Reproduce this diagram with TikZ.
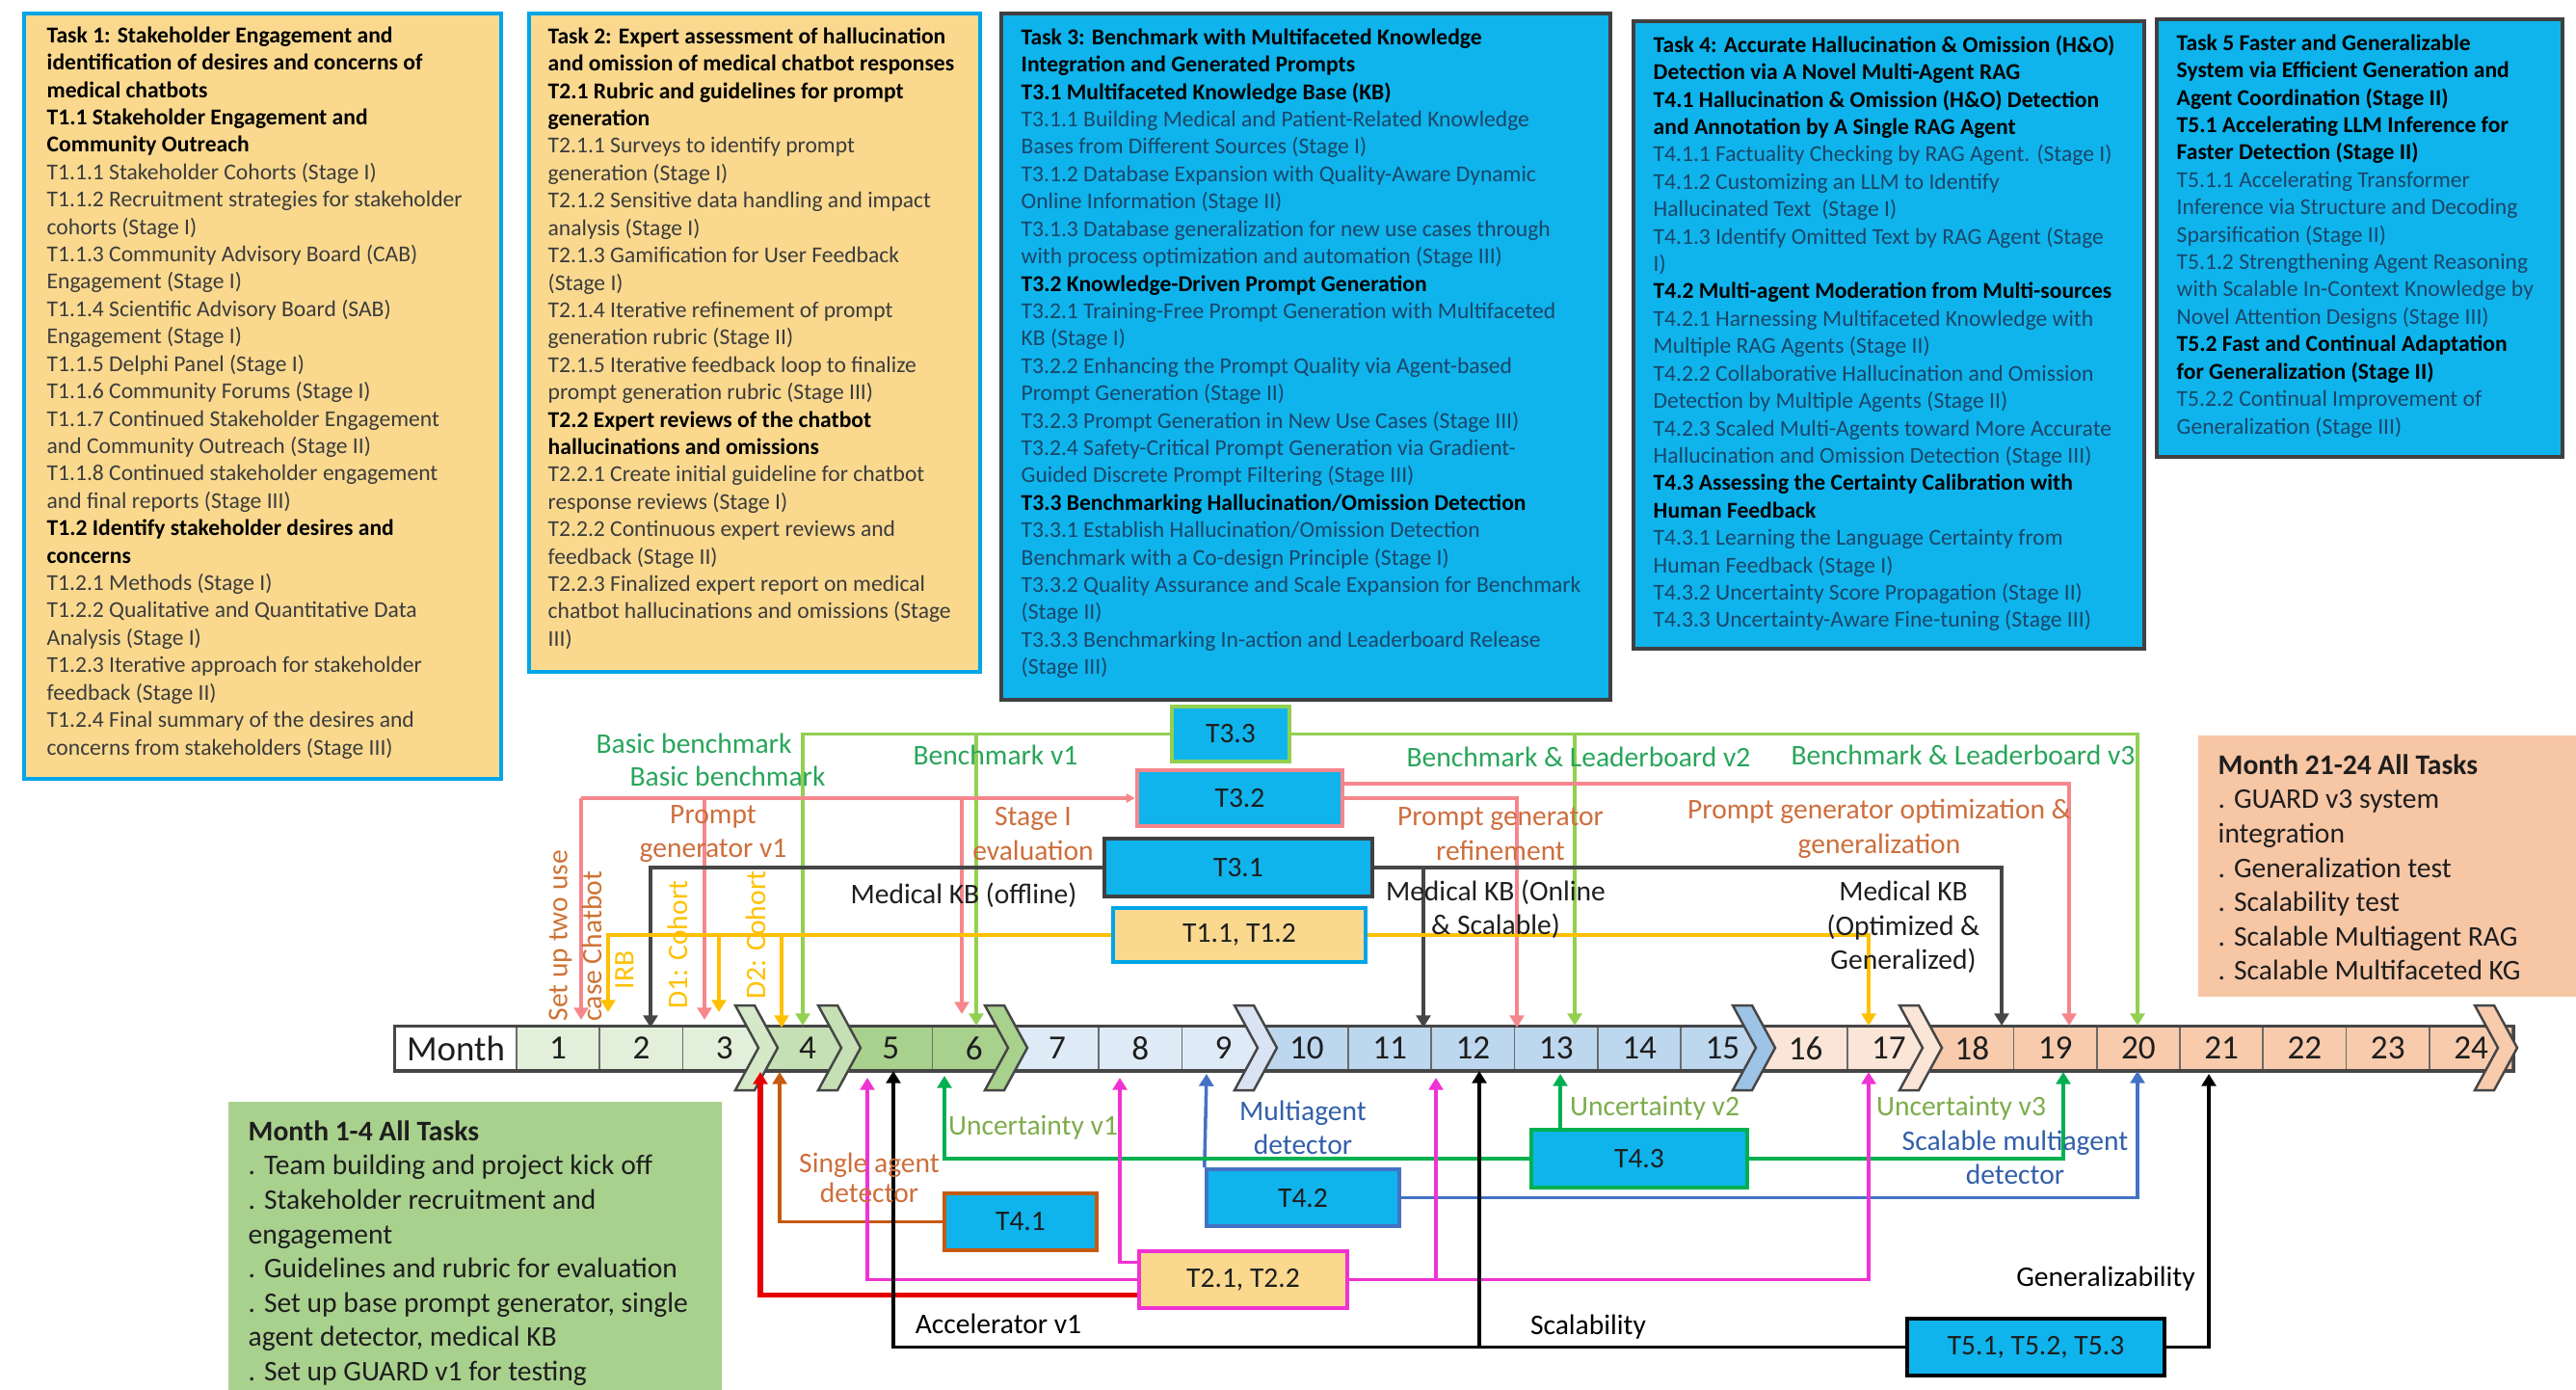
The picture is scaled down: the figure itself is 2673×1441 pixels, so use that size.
\documentclass[tikz,border=0pt]{standalone}
\usepackage{fontspec}
\setmainfont{Carlito}
\usetikzlibrary{arrows.meta}

% fills and borders
\definecolor{cyanf}{RGB}{15,180,236}
\definecolor{yelf}{RGB}{250,217,143}
\definecolor{bluebd}{RGB}{0,165,232}
\definecolor{darkbd}{RGB}{64,64,64}
\definecolor{grnbox}{RGB}{169,209,142}
\definecolor{pchbox}{RGB}{247,198,165}
% connector colours
\definecolor{lgreen}{RGB}{146,208,80}
\definecolor{pinkln}{RGB}{245,135,140}
\definecolor{greyln}{RGB}{70,70,70}
\definecolor{yelln}{RGB}{255,192,0}
\definecolor{brownln}{RGB}{197,90,17}
\definecolor{blueln}{RGB}{68,114,196}
\definecolor{greenln}{RGB}{0,176,80}
\definecolor{magln}{RGB}{240,50,210}
\definecolor{redln}{RGB}{230,0,0}
% label colours
\definecolor{txgreen}{RGB}{40,165,90}
\definecolor{txorange}{RGB}{205,110,60}
\definecolor{txblue}{RGB}{50,95,170}
\definecolor{txolive}{RGB}{125,172,75}
\definecolor{txdark}{RGB}{30,30,30}
\definecolor{subA}{RGB}{60,60,60}
\definecolor{subB}{RGB}{25,70,105}
% timeline phases
\definecolor{tlA}{RGB}{226,239,218}
\definecolor{tlB}{RGB}{197,224,180}
\definecolor{tlC}{RGB}{169,209,142}
\definecolor{tlD}{RGB}{222,235,247}
\definecolor{tlE}{RGB}{189,215,238}
\definecolor{tlF}{RGB}{251,229,214}
\definecolor{tlG}{RGB}{248,203,173}
\definecolor{chevA}{RGB}{213,232,200}
\definecolor{chevD}{RGB}{218,227,243}
\definecolor{chevE}{RGB}{157,195,230}

\newcommand\taskfont{\fontsize{6.7}{8.08}\selectfont}
\newcommand\lblfont{\fontsize{8.4}{10.1}\selectfont}
\newcommand\hb[1]{{\color{black}\bfseries #1}}

\begin{document}
\begin{tikzpicture}[x=0.01cm,y=-0.01cm,
  taskA/.style={draw=bluebd, line width=1.1pt, fill=yelf, inner sep=0, anchor=north west},
  taskB/.style={draw=darkbd, line width=1.1pt, fill=cyanf, inner sep=0, anchor=north west},
  tasktext/.style={font=\taskfont, align=left, inner sep=0, anchor=north west},
  tbox/.style={line width=1.2pt, fill=cyanf, inner sep=0, font=\lblfont, text=txdark},
  lbl/.style={font=\lblfont, align=center, inner sep=0},
  cell/.style={draw=greyln!80, line width=0.5pt, inner sep=0, minimum width=0.863cm,
    minimum height=0.45cm, font=\fontsize{10}{12}\selectfont, text=txdark},
  chev/.style={draw=greyln, line width=0.7pt},
  arr/.style={-{Triangle[length=3.6pt,width=4.2pt]}},
  cgreen/.style={draw=lgreen, line width=1pt, arr},
  cpink/.style={draw=pinkln, line width=1pt, arr},
  cgrey/.style={draw=greyln, line width=1pt, arr},
  cyel/.style={draw=yelln, line width=1pt, arr},
  cbrown/.style={draw=brownln, line width=1pt, arr},
  cblue/.style={draw=blueln, line width=1pt, arr},
  cgrn/.style={draw=greenln, line width=1pt, arr},
  cmag/.style={draw=magln, line width=1pt, arr},
  cred/.style={draw=redln, line width=1.5pt, arr},
  cblk/.style={draw=black, line width=1.1pt, arr}]

\useasboundingbox (0,0) rectangle (2673,1441);

% ---------------- task description panels ----------------
\node[taskA, minimum width=4.95cm, minimum height=7.94cm] (task1) at (23,12) {};
\node[tasktext, text=subA] (task1txt) at (48,27) {%
\hb{Task 1: Stakeholder Engagement and}\\
\hb{identification of desires and concerns of}\\
\hb{medical chatbots}\\
\hb{T1.1 Stakeholder Engagement and}\\
\hb{Community Outreach}\\
T1.1.1 Stakeholder Cohorts (Stage I)\\
T1.1.2 Recruitment strategies for stakeholder\\
cohorts (Stage I)\\
T1.1.3 Community Advisory Board (CAB)\\
Engagement (Stage I)\\
T1.1.4 Scientific Advisory Board (SAB)\\
Engagement (Stage I)\\
T1.1.5 Delphi Panel (Stage I)\\
T1.1.6 Community Forums (Stage I)\\
T1.1.7 Continued Stakeholder Engagement\\
and Community Outreach (Stage II)\\
T1.1.8 Continued stakeholder engagement\\
and final reports (Stage III)\\
\hb{T1.2 Identify stakeholder desires and}\\
\hb{concerns}\\
T1.2.1 Methods (Stage I)\\
T1.2.2 Qualitative and Quantitative Data\\
Analysis (Stage I)\\
T1.2.3 Iterative approach for stakeholder\\
feedback (Stage II)\\
T1.2.4 Final summary of the desires and\\
concerns from stakeholders (Stage III)};

\node[taskA, minimum width=4.68cm, minimum height=6.83cm] (task2) at (547,12) {};
\node[tasktext, text=subA] (task2txt) at (568,28) {%
\hb{Task 2: Expert assessment of hallucination}\\
\hb{and omission of medical chatbot responses}\\
\hb{T2.1 Rubric and guidelines for prompt}\\
\hb{generation}\\
T2.1.1 Surveys to identify prompt\\
generation (Stage I)\\
T2.1.2 Sensitive data handling and impact\\
analysis (Stage I)\\
T2.1.3 Gamification for User Feedback\\
(Stage I)\\
T2.1.4 Iterative refinement of prompt\\
generation rubric (Stage II)\\
T2.1.5 Iterative feedback loop to finalize\\
prompt generation rubric (Stage III)\\
\hb{T2.2 Expert reviews of the chatbot}\\
\hb{hallucinations and omissions}\\
T2.2.1 Create initial guideline for chatbot\\
response reviews (Stage I)\\
T2.2.2 Continuous expert reviews and\\
feedback (Stage II)\\
T2.2.3 Finalized expert report on medical\\
chatbot hallucinations and omissions (Stage\\
III)};

\node[taskB, minimum width=6.32cm, minimum height=7.12cm] (task3) at (1037,12) {};
\node[tasktext, text=subB] (task3txt) at (1059,29) {%
\hb{Task 3: Benchmark with Multifaceted Knowledge}\\
\hb{Integration and Generated Prompts}\\
\hb{T3.1 Multifaceted Knowledge Base (KB)}\\
T3.1.1 Building Medical and Patient-Related Knowledge\\
Bases from Different Sources (Stage I)\\
T3.1.2 Database Expansion with Quality-Aware Dynamic\\
Online Information (Stage II)\\
T3.1.3 Database generalization for new use cases through\\
with process optimization and automation (Stage III)\\
\hb{T3.2 Knowledge-Driven Prompt Generation}\\
T3.2.1 Training-Free Prompt Generation with Multifaceted\\
KB (Stage I)\\
T3.2.2 Enhancing the Prompt Quality via Agent-based\\
Prompt Generation (Stage II)\\
T3.2.3 Prompt Generation in New Use Cases (Stage III)\\
T3.2.4 Safety-Critical Prompt Generation via Gradient-\\
Guided Discrete Prompt Filtering (Stage III)\\
\hb{T3.3 Benchmarking Hallucination/Omission Detection}\\
T3.3.1 Establish Hallucination/Omission Detection\\
Benchmark with a Co-design Principle (Stage I)\\
T3.3.2 Quality Assurance and Scale Expansion for Benchmark\\
(Stage II)\\
T3.3.3 Benchmarking In-action and Leaderboard Release\\
(Stage III)};

\node[taskB, minimum width=5.30cm, minimum height=6.51cm] (task4) at (1693,20) {};
\node[tasktext, text=subB] (task4txt) at (1715,36) {%
\hb{Task 4: Accurate Hallucination \& Omission (H\&O)}\\
\hb{Detection via A Novel Multi-Agent RAG}\\
\hb{T4.1 Hallucination \& Omission (H\&O) Detection}\\
\hb{and Annotation by A Single RAG Agent}\\
T4.1.1 Factuality Checking by RAG Agent. (Stage I)\\
T4.1.2 Customizing an LLM to Identify\\
Hallucinated Text \ (Stage I)\\
T4.1.3 Identify Omitted Text by RAG Agent (Stage\\
I)\\
\hb{T4.2 Multi-agent Moderation from Multi-sources}\\
T4.2.1 Harnessing Multifaceted Knowledge with\\
Multiple RAG Agents (Stage II)\\
T4.2.2 Collaborative Hallucination and Omission\\
Detection by Multiple Agents (Stage II)\\
T4.2.3 Scaled Multi-Agents toward More Accurate\\
Hallucination and Omission Detection (Stage III)\\
\hb{T4.3 Assessing the Certainty Calibration with}\\
\hb{Human Feedback}\\
T4.3.1 Learning the Language Certainty from\\
Human Feedback (Stage I)\\
T4.3.2 Uncertainty Score Propagation (Stage II)\\
T4.3.3 Uncertainty-Aware Fine-tuning (Stage III)};

\node[taskB, minimum width=4.21cm, minimum height=4.54cm] (task5) at (2236,18) {};
\node[tasktext, text=subB] (task5txt) at (2258,35) {%
\hb{Task 5 Faster and Generalizable}\\
\hb{System via Efficient Generation and}\\
\hb{Agent Coordination (Stage II)}\\
\hb{T5.1 Accelerating LLM Inference for}\\
\hb{Faster Detection (Stage II)}\\
T5.1.1 Accelerating Transformer\\
Inference via Structure and Decoding\\
Sparsification (Stage II)\\
T5.1.2 Strengthening Agent Reasoning\\
with Scalable In-Context Knowledge by\\
Novel Attention Designs (Stage III)\\
\hb{T5.2 Fast and Continual Adaptation}\\
\hb{for Generalization (Stage II)}\\
T5.2.2 Continual Improvement of\\
Generalization (Stage III)};

% ---------------- summary panels ----------------
\node[fill=grnbox, inner sep=0, anchor=north west, minimum width=5.12cm, minimum height=2.99cm] (sum14) at (236,1142) {};
\node[font=\lblfont, align=left, inner sep=0, anchor=north west, text=txdark] (sum14txt) at (257,1162) {%
\textbf{Month 1-4 All Tasks}\\
. Team building and project kick off\\
. Stakeholder recruitment and\\
engagement\\
. Guidelines and rubric for evaluation\\
. Set up base prompt generator, single\\
agent detector, medical KB\\
. Set up GUARD v1 for testing};

\node[fill=pchbox, inner sep=0, anchor=north west, minimum width=3.93cm, minimum height=2.71cm] (sum2124) at (2280,762) {};
\node[font=\lblfont, align=left, inner sep=0, anchor=north west, text=txdark] (sum2124txt) at (2301,782) {%
\textbf{Month 21-24 All Tasks}\\
. GUARD v3 system\\
integration\\
. Generalization test\\
. Scalability test\\
. Scalable Multiagent RAG\\
. Scalable Multifaceted KG};

% ---------------- month timeline ----------------
\node[cell, fill=white, minimum width=1.26cm, font=\fontsize{10.5}{12}\selectfont] (month) at (473,1087.5) {Month};
\foreach \i/\c in {1/tlA,2/tlA,3/tlA,4/tlB,5/tlC,6/tlC,7/tlD,8/tlD,9/tlD,10/tlE,11/tlE,12/tlE,13/tlE,14/tlE,15/tlE,16/tlF,17/tlF,18/tlG,19/tlG,20/tlG,21/tlG,22/tlG,23/tlG,24/tlG}{
  \pgfmathsetmacro\cx{536+(\i-0.5)*86.3}
  \node[cell, fill=\c] (m\i) at (\cx,1087.5) {\i};
}
\draw[greyln, line width=0.9pt] (month.north west) rectangle (m24.south east);
% phase chevrons
\foreach \b/\c in {795/chevA,881/tlB,1054/tlC,1313/chevD,1830/chevE,2003/tlF,2600/tlG}{
  \filldraw[chev, fill=\c] (\b-32,1043) -- (\b-12,1043) -- (\b+12,1087) -- (\b-12,1131)
    -- (\b-32,1131) -- (\b-8,1087) -- cycle;
}

% ---------------- work-package boxes ----------------
\node[tbox, draw=lgreen, minimum width=1.22cm, minimum height=0.57cm] (t33) at (1277,761.5) {T3.3};
\node[tbox, draw=pinkln, minimum width=2.13cm, minimum height=0.58cm] (t32) at (1286.5,828) {T3.2};
\node[tbox, draw=darkbd, minimum width=2.78cm, minimum height=0.60cm] (t31) at (1285,900) {T3.1};
\node[tbox, draw=bluebd, fill=yelf, minimum width=2.62cm, minimum height=0.56cm] (t11) at (1286,970) {T1.1, T1.2};
\node[tbox, draw=brownln, minimum width=1.58cm, minimum height=0.59cm] (t41) at (1059,1267.5) {T4.1};
\node[tbox, draw=blueln, minimum width=2.00cm, minimum height=0.59cm] (t42) at (1352,1242.5) {T4.2};
\node[tbox, draw=greenln, minimum width=2.24cm, minimum height=0.60cm] (t43) at (1701,1202) {T4.3};
\node[tbox, draw=magln, fill=yelf, minimum width=2.16cm, minimum height=0.59cm] (t2) at (1290,1327.5) {T2.1, T2.2};
\node[tbox, draw=black, minimum width=2.67cm, minimum height=0.59cm] (t5) at (2112.5,1397.5) {T5.1, T5.2, T5.3};

% ---------------- arrow ends on the timeline ----------------
\coordinate (aP1) at (603,1058);
\coordinate (aY1) at (631,1050);
\coordinate (aK1) at (675,1066);
\coordinate (aP2) at (731,1058);
\coordinate (aY2) at (746,1050);
\coordinate (aY3) at (811,1066);
\coordinate (aG1) at (833,1064);
\coordinate (aP3) at (998,1052);
\coordinate (aG2) at (1013,1064);
\coordinate (aK2) at (1477,1066);
\coordinate (aP4) at (1574,1066);
\coordinate (aG3) at (1634,1064);
\coordinate (aY4) at (1939,1064);
\coordinate (aK3) at (2077,1064);
\coordinate (aP5) at (2147,1064);
\coordinate (aG4) at (2218,1064);

\coordinate (bR1) at (789,1112);
\coordinate (bB1) at (809,1112);
\coordinate (bM1) at (900,1118);
\coordinate (bK1) at (927,1111);
\coordinate (bG1) at (980,1116);
\coordinate (bM2) at (1162,1118);
\coordinate (bU1) at (1252,1114);
\coordinate (bM3) at (1490,1118);
\coordinate (bK2) at (1535,1111);
\coordinate (bG2) at (1619,1114);
\coordinate (bM4) at (1939,1112);
\coordinate (bG3) at (2141,1112);
\coordinate (bU2) at (2218,1111);
\coordinate (bK3) at (2292,1114);

% ---------------- connectors above the timeline ----------------
\draw[cgreen] (t33.west) -| (aG1);
\draw[cgreen] (t33.west -| aG2) -- (aG2);
\draw[cgreen] (t33.east) -| (aG4);
\draw[cgreen] (t33.east -| aG3) -- (aG3);

\draw[cpink, -{Triangle[length=2.6pt,width=2.6pt]}] (t32.west -| aP1) -- (t32.west);
\draw[cpink] (t32.west -| aP1) -- (aP1);
\draw[cpink] (t32.west -| aP2) -- (aP2);
\draw[cpink] (t32.west -| aP3) -- (aP3);
\draw[cpink] (t32.east) -| (aP4);
\draw[cpink] ([yshift=0.15cm]t32.east) -| (aP5);

\draw[cgrey] (t31.west) -| (aK1);
\draw[cgrey] (t31.east) -| (aK3);
\draw[cgrey] (t31.east -| aK2) -- (aK2);

\draw[cyel] (t11.west) -| (aY1);
\draw[cyel] (t11.west -| aY2) -- (aY2);
\draw[cyel] (t11.west -| aY3) -- (aY3);
\draw[cyel] (t11.east) -| (aY4);

% ---------------- connectors below the timeline ----------------
\draw[cbrown] (t41.west) -| (bB1);
\draw[cblue] (t42.north west) -- (bU1);
\draw[cblue] (t42.east) -| (bU2);
\draw[cgrn] (t43.west) -| (bG1);
\draw[cgrn] (t43.east) -| (bG3);
\draw[cgrn] (t43.north -| bG2) -- (bG2);
\draw[cmag] ([yshift=0.18cm]t2.west) -| (bM2);
\draw[cmag] (t2.west) -| (bM1);
\draw[cred] ([yshift=-0.16cm]t2.west) -| (bR1);
\draw[cmag] (t2.east) -| (bM4);
\draw[cmag] (t2.east -| bM3) -- (bM3);
\draw[cblk] (t5.west) -| (bK1);
\draw[cblk] (t5.west -| bK2) -- (bK2);
\draw[cblk] (t5.east) -| (bK3);

% ---------------- labels above the timeline ----------------
\node[lbl, text=txgreen] (lbb1) at (720,771) {Basic benchmark};
\node[lbl, text=txgreen] (lbb2) at (755,805) {Basic benchmark};
\node[lbl, text=txgreen] (lbv1) at (1033,783) {Benchmark v1};
\node[lbl, text=txgreen] (lbv2) at (1638,785) {Benchmark \& Leaderboard v2};
\node[lbl, text=txgreen] (lbv3) at (2037,783) {Benchmark \& Leaderboard v3};
\node[lbl, text=txorange] (lpg1) at (740,865) {Prompt\\generator v1};
\node[lbl, text=txorange] (lse) at (1072,865) {Stage I\\evaluation};
\node[lbl, text=txorange] (lpgr) at (1557,865) {Prompt generator\\refinement};
\node[lbl, text=txorange] (lpgo) at (1950,860) {Prompt generator optimization \&\\generalization};
\node[lbl, text=txdark] (lkb1) at (1000,929) {Medical KB (offline)};
\node[lbl, text=txdark] (lkb2) at (1552,943) {Medical KB (Online\\\& Scalable)};
\node[lbl, text=txdark] (lkb3) at (1975,962) {Medical KB\\(Optimized \&\\Generalized)};
\node[lbl, rotate=90, anchor=west, align=left, text=brownln!85] (lchat) at (597,1060) {Set up two use\\case Chatbot};
\node[lbl, rotate=90, anchor=west, text=yelln] (lirb) at (648,1027) {IRB};
\node[lbl, rotate=90, anchor=west, text=yelln] (ld1) at (703,1047) {D1: Cohort};
\node[lbl, rotate=90, anchor=west, text=yelln] (ld2) at (784,1037) {D2: Cohort};

% ---------------- labels below the timeline ----------------
\node[lbl, text=txolive] (lu1) at (1072,1170) {Uncertainty v1};
\node[lbl, text=txorange, font=\fontsize{8.4}{8.8}\selectfont] (lsad) at (902,1222) {Single agent\\detector};
\node[lbl, text=txblue] (lmad) at (1352,1170) {Multiagent\\detector};
\node[lbl, text=txolive] (lu2) at (1717,1150) {Uncertainty v2};
\node[lbl, text=txolive] (lu3) at (2035,1150) {Uncertainty v3};
\node[lbl, text=txblue] (lsmad) at (2091,1201) {Scalable multiagent\\detector};
\node[lbl, text=black] (lacc) at (1036,1373) {Accelerator v1};
\node[lbl, text=black] (lsca) at (1648,1377) {Scalability};
\node[lbl, text=black] (lgen) at (2185,1327) {Generalizability};

\end{tikzpicture}
\end{document}
